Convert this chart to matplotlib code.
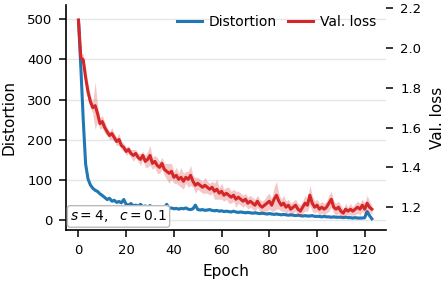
import matplotlib
matplotlib.use("Agg")
import matplotlib.pyplot as plt
import numpy as np

epochs = list(range(124))

distortion = [497, 380, 250, 140, 103, 88, 80, 75, 72, 66,
              62, 57, 52, 55, 48, 50, 45, 47, 44, 52,
              40, 38, 42, 36, 38, 35, 40, 34, 36, 33,
              37, 32, 34, 31, 33, 30, 32, 40, 30, 31,
              29, 30, 28, 30, 29, 31, 28, 27, 29, 38,
              27, 26, 27, 25, 26, 27, 25, 24, 25, 23,
              24, 22, 23, 22, 21, 23, 21, 20, 21, 20,
              19, 20, 19, 18, 19, 18, 17, 18, 17, 16,
              17, 16, 15, 16, 15, 14, 15, 14, 13, 14,
              13, 12, 13, 12, 11, 12, 11, 11, 12, 10,
              10, 10, 9, 10, 9, 9, 8, 9, 8, 8,
              8, 7, 8, 7, 7, 6, 7, 6, 6, 6,
              7, 22, 12, 4]
distortion_std = [4, 6, 6, 5, 4, 4, 4, 4, 4, 4,
                  4, 4, 4, 4, 4, 4, 4, 4, 4, 5,
                  3, 3, 3, 3, 3, 3, 3, 3, 3, 3,
                  3, 3, 3, 3, 3, 3, 3, 4, 3, 3,
                  3, 3, 3, 3, 3, 3, 3, 3, 3, 4,
                  3, 3, 3, 3, 3, 3, 3, 3, 3, 3,
                  3, 3, 3, 3, 3, 3, 3, 3, 3, 3,
                  3, 3, 3, 3, 3, 3, 3, 3, 3, 3,
                  3, 3, 3, 3, 3, 3, 3, 3, 3, 3,
                  3, 3, 3, 3, 3, 3, 3, 3, 3, 3,
                  3, 3, 3, 3, 3, 3, 3, 3, 3, 3,
                  3, 3, 3, 3, 3, 3, 3, 3, 3, 3,
                  3, 5, 4, 3]

val_loss = [2.14, 1.95, 1.94, 1.85, 1.78, 1.73, 1.70, 1.71, 1.67, 1.62,
            1.63, 1.60, 1.58, 1.56, 1.57, 1.55, 1.53, 1.54, 1.51, 1.50,
            1.48, 1.49, 1.47, 1.46, 1.47, 1.45, 1.44, 1.46, 1.43, 1.44,
            1.46, 1.42, 1.43, 1.41, 1.40, 1.42, 1.39, 1.38, 1.37, 1.38,
            1.35, 1.36, 1.34, 1.35, 1.33, 1.35, 1.34, 1.36, 1.33, 1.31,
            1.32, 1.31, 1.30, 1.31, 1.30, 1.29, 1.30, 1.28, 1.29, 1.27,
            1.28, 1.26, 1.27, 1.26, 1.25, 1.26, 1.24, 1.25, 1.24, 1.23,
            1.24, 1.22, 1.23, 1.22, 1.21, 1.23, 1.21, 1.20, 1.21, 1.22,
            1.23, 1.21, 1.24, 1.26, 1.23, 1.21, 1.22, 1.20, 1.21, 1.19,
            1.20, 1.21, 1.19, 1.18, 1.20, 1.22, 1.21, 1.26, 1.22, 1.20,
            1.21, 1.19, 1.20, 1.19, 1.20, 1.22, 1.24, 1.20, 1.19, 1.20,
            1.18, 1.17, 1.19, 1.18, 1.19, 1.18, 1.19, 1.20, 1.19, 1.21,
            1.19, 1.22, 1.20, 1.19]
val_loss_std = [0.01, 0.02, 0.03, 0.05, 0.04, 0.03, 0.03, 0.12, 0.04, 0.03,
                0.03, 0.03, 0.02, 0.02, 0.03, 0.02, 0.02, 0.03, 0.02, 0.02,
                0.02, 0.02, 0.02, 0.03, 0.02, 0.02, 0.03, 0.02, 0.03, 0.04,
                0.05, 0.03, 0.03, 0.04, 0.03, 0.03, 0.03, 0.04, 0.05, 0.04,
                0.03, 0.04, 0.03, 0.05, 0.04, 0.03, 0.04, 0.05, 0.03, 0.04,
                0.03, 0.03, 0.03, 0.04, 0.03, 0.03, 0.03, 0.04, 0.05, 0.03,
                0.04, 0.03, 0.03, 0.04, 0.03, 0.03, 0.04, 0.03, 0.03, 0.03,
                0.03, 0.03, 0.03, 0.03, 0.03, 0.03, 0.03, 0.03, 0.03, 0.04,
                0.04, 0.03, 0.06, 0.07, 0.04, 0.03, 0.04, 0.03, 0.03, 0.03,
                0.03, 0.03, 0.03, 0.03, 0.03, 0.04, 0.03, 0.05, 0.04, 0.03,
                0.03, 0.03, 0.03, 0.03, 0.03, 0.04, 0.04, 0.03, 0.03, 0.03,
                0.03, 0.02, 0.03, 0.02, 0.03, 0.02, 0.03, 0.03, 0.03, 0.03,
                0.03, 0.04, 0.03, 0.02]

x_ticks = [0, 20, 40, 60, 80, 100, 120]
left_ticks = [0, 100, 200, 300, 400, 500]
right_ticks = [1.2, 1.4, 1.6, 1.8, 2.0, 2.2]
annotation = r"$s=4,\ \ c=0.1$"

blue = "#1f77b4"
red = "#d62728"

plt.rcParams["font.family"] = "DejaVu Sans"
fig = plt.figure(figsize=(4.48, 2.83), dpi=100)
ax = fig.add_axes([0.148, 0.187, 0.714, 0.795])
ax2 = ax.twinx()

ep = np.array(epochs)
d = np.array(distortion, float)
ds = np.array(distortion_std, float)
v = np.array(val_loss)
vs = np.array(val_loss_std)

ax.fill_between(ep, d - ds, d + ds, color=blue, alpha=0.25, lw=0)
l1, = ax.plot(ep, d, color=blue, lw=2.2, label="Distortion")
ax2.fill_between(ep, v - vs, v + vs, color=red, alpha=0.25, lw=0)
l2, = ax2.plot(ep, v, color=red, lw=2.2, label="Val. loss")

ax.set_xlim(-5.1, 129)
ax.set_ylim(-24, 535)
ax2.set_ylim(1.085, 2.215)
ax.set_xticks(x_ticks)
ax.set_yticks(left_ticks)
ax2.set_yticks(right_ticks)
ax2.set_yticklabels([f"{t:.1f}" for t in right_ticks])

ax.yaxis.grid(True, color="#e6e6e6", lw=1)
ax.set_axisbelow(True)

for a in (ax, ax2):
    a.spines["top"].set_visible(False)
    a.spines["right"].set_visible(False)
    a.tick_params(labelsize=9.5, width=1.1, length=5, pad=5, colors="black")
ax2.spines["left"].set_visible(False)
ax2.spines["bottom"].set_visible(False)
ax.spines["left"].set_linewidth(1.2)
ax.spines["bottom"].set_linewidth(1.2)

ax.set_xlabel("Epoch", fontsize=11, labelpad=5)
ax.set_ylabel("Distortion", fontsize=11, labelpad=8)
ax2.set_ylabel("Val. loss", fontsize=11, labelpad=6)

ax2.legend([l1, l2], ["Distortion", "Val. loss"], loc="upper right", ncol=2,
           frameon=False, fontsize=10, handlelength=1.8, columnspacing=0.8,
           handletextpad=0.5, borderaxespad=0.3)

ax.text(0.012, 0.025, annotation, transform=ax.transAxes, fontsize=10,
        ha="left", va="bottom", zorder=10,
        bbox=dict(boxstyle="round,pad=0.2", fc="white", ec="#bbbbbb", lw=1))

fig.savefig("out.png", dpi=100)
